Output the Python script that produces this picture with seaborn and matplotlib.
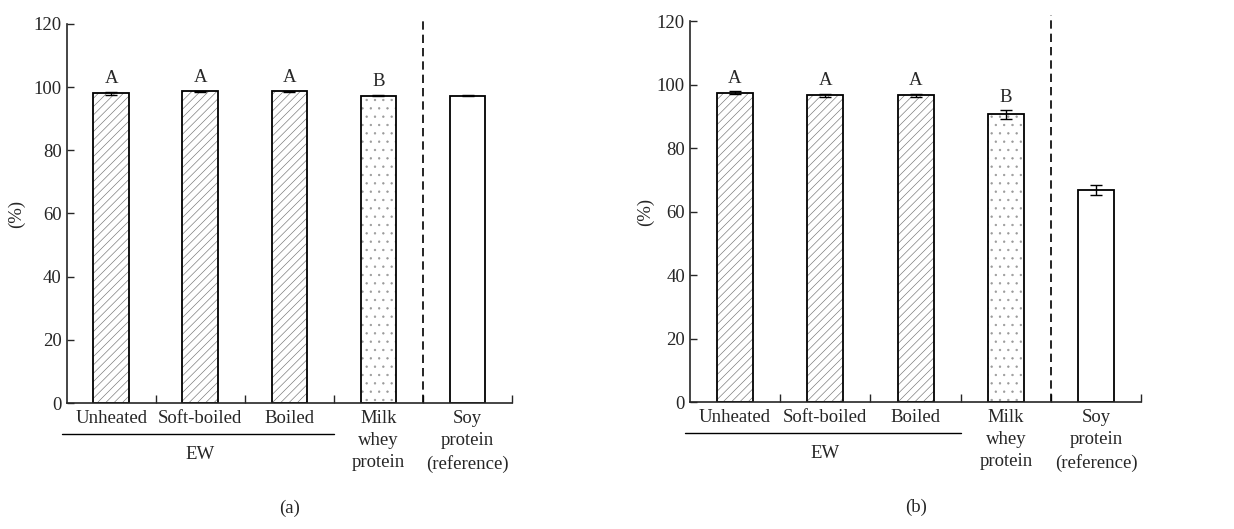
import pandas as pd
import matplotlib.pyplot as plt
import seaborn as sns

# categories and values
categories = ["Unheated", "Soft-boiled", "Boiled", "Milk\nwhey\nprotein", "Soy\nprotein\n(reference)"]
values_a = [98.0, 98.6, 98.6, 97.3, 97.3]
errors_a = [0.5, 0.2, 0.2, 0.2, 0.2]
letters_a = ["A", "A", "A", "B", ""]
values_b = [97.4, 96.7, 96.7, 90.6, 66.7]
errors_b = [0.5, 0.5, 0.5, 1.3, 1.6]
letters_b = ["A", "A", "A", "B", ""]
group_label = "EW"
yticks = [0, 20, 40, 60, 80, 100, 120]

hatches = ["////", "////", "////", "..", ""]
hatch_greys = [0.45, 0.45, 0.45, 0.6, 0.45]

sns.set_style("ticks")
plt.rcParams["font.family"] = ["Liberation Serif", "DejaVu Serif"]
plt.rcParams["hatch.linewidth"] = 0.45


def draw_panel(ax, values, errors, letters, panel, ypad):
    df = pd.DataFrame({"cat": categories, "val": values})
    sns.barplot(data=df, x="cat", y="val", color="white", edgecolor="black",
                linewidth=1.3, width=0.4, errorbar=None, saturation=1, ax=ax)
    for patch, h, g in zip(ax.patches, hatches, hatch_greys):
        patch.set_hatch(h)
        patch._hatch_color = (g, g, g, 1)
    pos = list(range(len(categories)))
    ax.errorbar(pos, values, yerr=errors, fmt="none", ecolor="black",
                elinewidth=1.0, capsize=4, capthick=1.0)
    for p, v, e, t in zip(pos, values, errors, letters):
        if t:
            ax.text(p, v + e + 1.5, t, ha="center", va="bottom", fontsize=13.5)

    ax.set_ylim(0, 120)
    ax.set_xlim(-0.5, len(categories) - 0.5)
    ax.set_yticks(yticks)
    ax.set_xticks(pos)
    ax.set_xticklabels(categories, fontsize=13.5, linespacing=1.4)
    ax.set_xticks([p + 0.5 for p in pos], minor=True)
    ax.tick_params(axis="x", which="major", length=0, pad=5)
    ax.tick_params(axis="x", which="minor", direction="in", length=6, width=1.0)
    ax.tick_params(axis="y", direction="in", length=5, width=1.0, labelsize=13.5)
    ax.set_xlabel("")
    ax.set_ylabel("(%)", fontsize=13.5, labelpad=ypad)
    for s in ["left", "bottom"]:
        ax.spines[s].set_linewidth(1.2)
    sns.despine(ax=ax)

    ax.axvline(3.5, ymin=0, ymax=1.015, color="black", lw=1.2,
               dashes=(5, 3), clip_on=False)

    tr = ax.get_xaxis_transform()
    ax.plot([-0.55, 2.5], [-0.082, -0.082], color="black", lw=1.0,
            transform=tr, clip_on=False)
    ax.text(1.0, -0.112, group_label, ha="center", va="top", fontsize=13.5,
            transform=tr)
    ax.text(0.5, -0.255, panel, ha="center", va="top", fontsize=13.5,
            transform=ax.transAxes)


fig = plt.figure(figsize=(12.34, 5.29), dpi=100)
ax1 = fig.add_axes([0.054, 0.238, 0.361, 0.717])
ax2 = fig.add_axes([0.559, 0.24, 0.366, 0.72])
draw_panel(ax1, values_a, errors_a, letters_a, "(a)", 6)
draw_panel(ax2, values_b, errors_b, letters_b, "(b)", 2)

fig.savefig("out.png", dpi=100)
